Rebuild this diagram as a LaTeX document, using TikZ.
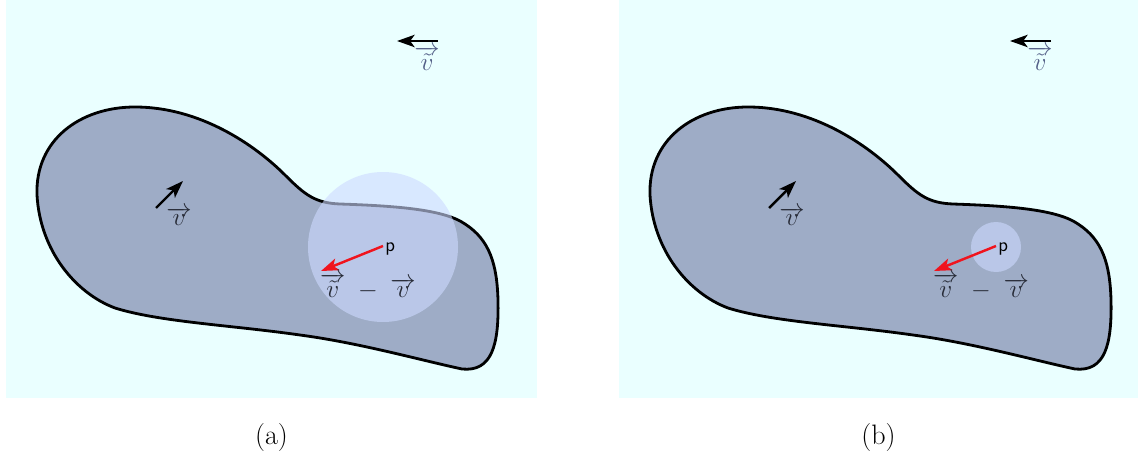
\documentclass[tikz,border=0pt]{standalone}
\usepackage{xcolor}
\definecolor{panelbg}{RGB}{234,255,255}
\definecolor{blobfill}{RGB}{158,172,198}
\definecolor{discfill}{RGB}{205,218,255}
\definecolor{labeldark}{RGB}{40,44,56}
\definecolor{labelblue}{RGB}{84,96,136}
\definecolor{vecred}{RGB}{240,20,30}
\usepackage{tikz}
\usetikzlibrary{arrows.meta,positioning}

\begin{document}
\begin{tikzpicture}[x=0.02cm, y=-0.02cm, >={Stealth[length=10pt,width=7pt,inset=2.5pt]}]
\useasboundingbox (0,0) rectangle (1142,456);

\foreach \dx/\rad/\lbl/\pw in {0/75/a/531, 613/25/b/519}{
  \begin{scope}[shift={(\dx,0)}]
  \fill[panelbg] (6,0) rectangle ++(\pw,398);
  \draw[line width=1.6pt, fill=blobfill]
    (37,195) .. controls (35,140) and (80,107) .. (135,107)
    .. controls (200,107) and (255,145) .. (285,175)
    .. controls (305,195) and (315,203) .. (340,204)
    .. controls (400,206) and (445,210) .. (465,224)
    .. controls (490,240) and (497,265) .. (498,300)
    .. controls (499,345) and (492,372) .. (462,369)
    .. controls (420,360) and (360,343) .. (300,335)
    .. controls (230,325) and (160,322) .. (115,308)
    .. controls (75,293) and (40,250) .. (37,195) -- cycle;
  \fill[discfill, opacity=0.6] (383,247) circle (\rad);

  % flow vector far away
  \coordinate (far\lbl) at (438,41);
  \coordinate (farhead\lbl) at (397,41);
  \draw[->, line width=1.4pt] (far\lbl) -- (farhead\lbl);
  \node[text=labelblue, font=\fontsize{15}{18}\selectfont] (farlbl\lbl) at (427,58) {$\overrightarrow{\tilde{v}}$};

  % local vector
  \coordinate (loc\lbl) at (156,208);
  \coordinate (lochead\lbl) at (183,181);
  \draw[->, line width=1.4pt] (loc\lbl) -- (lochead\lbl);
  \node[text=labeldark, font=\fontsize{15}{18}\selectfont] (loclbl\lbl) at (179,216) {$\overrightarrow{v}$};

  % difference at p
  \coordinate (pt\lbl) at (383,246);
  \coordinate (tip\lbl) at (321,271);
  \node[anchor=base west, inner sep=0pt, font=\sffamily\fontsize{11}{13}\selectfont] (p\lbl) at (385,251) {p};
  \draw[->, vecred, line width=1.4pt] (pt\lbl) -- (tip\lbl);
  \node[text=labeldark, font=\fontsize{15}{18}\selectfont] (diff\lbl) at (368,286) {$\overrightarrow{\tilde{v}}\;-\;\overrightarrow{v}$};

  \node[font=\fontsize{16}{19}\selectfont] (cap\lbl) at ({6+\pw/2},437) {(\lbl)};
  \end{scope}
}
\end{tikzpicture}
\end{document}
